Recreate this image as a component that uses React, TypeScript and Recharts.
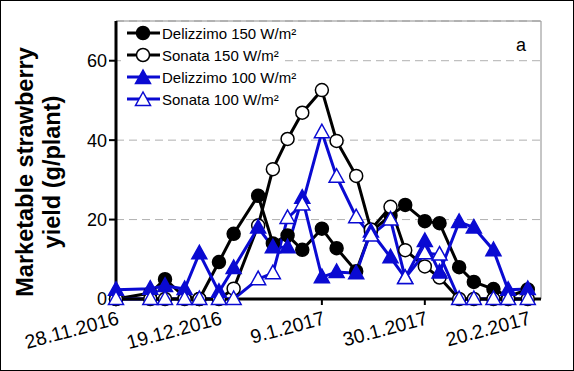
import React from 'react'
import {
  LineChart, Line, XAxis, YAxis, CartesianGrid, ReferenceLine,
} from 'recharts'

// days after 28.11.2016
const days = [0, 7, 10, 14, 17, 21, 24, 29, 32, 35, 38, 42, 45, 49, 52, 56, 59, 63, 66, 70, 73, 77, 80, 84]

const delizzimo150 = [0, 1.5, 5, 0.5, 0, 9.3, 16.4, 26, 14, 16, 12.4, 17.7, 12.8, 7, 17, 21, 23.7, 19.6, 19.1, 8, 4.3, 2.5, 0.6, 2.4]
const sonata150 = [0, 0, 0, 0, 0, 0, 2.6, 18.5, 32.7, 40.3, 46.9, 52.6, 39.8, 31, 17.5, 23.2, 12.3, 8.2, 5.4, 0, 0, 0, 0, 0]
const delizzimo100 = [2.3, 2.6, 3.3, 2.5, 11.5, 1.8, 7.8, 18, 13, 13, 25.5, 5.5, 6.8, 6.5, 17, 10.5, 5.3, 14.6, 6.7, 19.4, 18, 12.3, 2.3, 2.5]
const sonata100 = [0, 0, 0, 0, 0, 0, 0, 5, 6.5, 20.4, 23.8, 42, 30.8, 20.6, 16, 20, 5.3, 11.5, 11.2, 0, 0, 0, 0, 0]

const xTicks = [0, 21, 42, 63, 84]
const xTickLabels = ['28.11.2016', '19.12.2016', '9.1.2017', '30.1.2017', '20.2.2017']
const yTicks = [0, 20, 40, 60]

const FONT = '"Liberation Sans", Arial, sans-serif'
const BLUE = '#0a0ad2'

const data = days.map((d, i) => ({
  day: d,
  d150: delizzimo150[i],
  s150: sonata150[i],
  d100: delizzimo100[i],
  s100: sonata100[i],
}))

const circleDot = (fill: string) => (props: any) => {
  const { cx, cy, index } = props
  return <circle key={index} cx={cx} cy={cy} r={6.5} fill={fill} stroke="#000" strokeWidth={1.5} />
}

const triPoints = (cx: number, cy: number) =>
  `${cx},${cy - 8} ${cx - 7.5},${cy + 5.5} ${cx + 7.5},${cy + 5.5}`

const triDot = (fill: string) => (props: any) => {
  const { cx, cy, index } = props
  return <polygon key={index} points={triPoints(cx, cy)} fill={fill} stroke={BLUE} strokeWidth={1.5} />
}

const XTick = (props: any) => {
  const { x, y, payload } = props
  const label = xTickLabels[xTicks.indexOf(payload.value)]
  const ax = x + 4
  const ay = y + 17
  return (
    <text x={ax} y={ay} transform={`rotate(-15 ${ax} ${ay})`} textAnchor="end"
      fontSize={19.5} fontFamily={FONT} fill="#000">
      {label}
    </text>
  )
}

const YLabel = () => (
  <g fontFamily={FONT} fontWeight="bold" fontSize={23.5} fill="#000">
    <text x={33} y={172} transform="rotate(-90 33 172)" textAnchor="middle">Marketable strawberry</text>
    <text x={60} y={172} transform="rotate(-90 60 172)" textAnchor="middle">yield (g/plant)</text>
  </g>
)

const legendItems = [
  { label: 'Delizzimo 150 W/m²', color: '#000', shape: 'circle', fill: '#000' },
  { label: 'Sonata 150 W/m²', color: '#000', shape: 'circle', fill: '#fff' },
  { label: 'Delizzimo 100 W/m²', color: BLUE, shape: 'tri', fill: BLUE },
  { label: 'Sonata 100 W/m²', color: BLUE, shape: 'tri', fill: '#fff' },
]

export default function App() {
  return (
    <div style={{ position: 'absolute', left: 0, top: 0, width: 574, height: 371, background: '#fff' }}>
      <LineChart width={574} height={371} data={data}
        margin={{ top: 21, right: 33, left: 0, bottom: 12 }}>
        <CartesianGrid vertical={false} stroke="#b0b0b0" strokeDasharray="8 5" />
        <XAxis
          dataKey="day" type="number" domain={[0, 86.7]} ticks={xTicks}
          tick={<XTick />} height={60} tickSize={6}
          axisLine={{ stroke: '#000', strokeWidth: 3 }}
          tickLine={{ stroke: '#000', strokeWidth: 2 }}
        />
        <YAxis
          type="number" domain={[0, 70]} ticks={yTicks} width={116} tickSize={7}
          tick={{ fontSize: 18, fill: '#000', fontFamily: FONT }}
          axisLine={{ stroke: '#000', strokeWidth: 3 }}
          tickLine={{ stroke: '#000', strokeWidth: 2 }}
          label={{ content: () => <YLabel /> }}
        />
        <ReferenceLine y={70} stroke="#8c8c8c" strokeWidth={1} />
        <ReferenceLine x={86.7} stroke="#8c8c8c" strokeWidth={1} />
        <Line dataKey="d150" stroke="#000" strokeWidth={3} dot={circleDot('#000')} isAnimationActive={false} />
        <Line dataKey="s150" stroke="#000" strokeWidth={3} dot={circleDot('#fff')} isAnimationActive={false} />
        <Line dataKey="d100" stroke={BLUE} strokeWidth={3} dot={triDot(BLUE)} isAnimationActive={false} />
        <Line dataKey="s100" stroke={BLUE} strokeWidth={3} dot={triDot('#fff')} isAnimationActive={false} />
      </LineChart>

      {/* Legende */}
      <div style={{
        position: 'absolute', left: 121, top: 22, width: 162, background: '#fff',
        fontFamily: FONT, fontSize: 15, color: '#000',
      }}>
        {legendItems.map(it => (
          <div key={it.label} style={{ display: 'flex', alignItems: 'center', height: 22 }}>
            <svg width={41} height={18} style={{ flex: 'none' }}>
              <line x1={6} x2={39} y1={9} y2={9} stroke={it.color} strokeWidth={3} />
              {it.shape === 'circle'
                ? <circle cx={22} cy={9} r={6.5} fill={it.fill} stroke="#000" strokeWidth={1.5} />
                : <polygon points={triPoints(22, 10)} fill={it.fill} stroke={BLUE} strokeWidth={1.5} />}
            </svg>
            <span style={{ whiteSpace: 'nowrap' }}>{it.label}</span>
          </div>
        ))}
      </div>

      <div style={{ position: 'absolute', left: 516, top: 35, fontFamily: FONT, fontSize: 18 }}>a</div>

      <div style={{
        position: 'absolute', left: 0, top: 0, width: 574, height: 371,
        border: '1px solid #000', boxSizing: 'border-box', pointerEvents: 'none',
      }} />
    </div>
  )
}
